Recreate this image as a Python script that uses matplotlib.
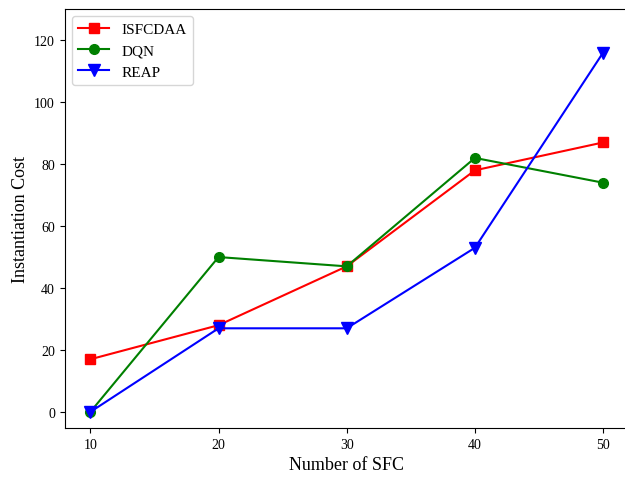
import matplotlib
matplotlib.use("Agg")
import matplotlib.pyplot as plt

plt.rcParams['font.family'] = ['Liberation Serif', 'DejaVu Serif']

x_sfc = [10, 20, 30, 40, 50]
isfcdaa = [17, 28, 47, 78, 87]
dqn = [0, 50, 47, 82, 74]
reap = [0, 27, 27, 53, 116]

fig, ax = plt.subplots(figsize=(6.25, 4.81), dpi=100)
ax.plot(x_sfc, isfcdaa, color='red', marker='s', markersize=7, label='ISFCDAA')
ax.plot(x_sfc, dqn, color='green', marker='o', markersize=7, label='DQN')
ax.plot(x_sfc, reap, color='blue', marker='v', markersize=8, label='REAP')
ax.set_xlim(8, 52)
ax.set_ylim(-5.2, 130.2)
ax.set_xticks(x_sfc)
ax.tick_params(labelsize=10)
ax.set_xlabel('Number of SFC', fontsize=13)
ax.set_ylabel('Instantiation Cost', fontsize=13)
ax.legend(loc='upper left', fontsize=11)
fig.subplots_adjust(left=0.1035, right=1.006, bottom=0.108, top=0.980)
fig.savefig('out.png')
